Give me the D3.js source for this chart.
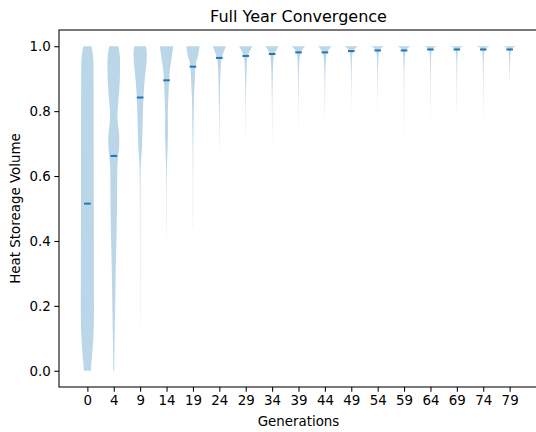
<!DOCTYPE html>
<html>
<head>
<meta charset="utf-8">
<script src="https://cdn.jsdelivr.net/npm/d3@7"></script>
<style>
  html, body { margin: 0; padding: 0; background: #fff; }
  svg { display: block; font-family: "DejaVu Sans", sans-serif; }
</style>
</head>
<body>
<svg id="chart" width="536" height="432"></svg>
<script>
// Generations sampled along the run
const generations = [0, 4, 9, 14, 19, 24, 29, 34, 39, 44, 49, 54, 59, 64, 69, 74, 79];

// Median heat storage volume per generation
const medians = [0.515, 0.662, 0.842, 0.895, 0.937, 0.964, 0.970, 0.976, 0.981, 0.981,
                 0.985, 0.987, 0.987, 0.990, 0.990, 0.990, 0.990];

// Kernel density profile per generation: [value, density relative to its peak]
const densities = [
  [[1.0, 0.60], [0.99, 0.72], [0.97, 0.85], [0.94, 0.93], [0.85, 0.95], [0.7, 0.96], [0.5, 0.97],
   [0.3, 0.99], [0.18, 1.0], [0.1, 0.9], [0.06, 0.76], [0.02, 0.6], [0.0, 0.52]],
  [[1.0, 0.70], [0.98, 0.86], [0.95, 0.96], [0.92, 0.95], [0.87, 0.85], [0.83, 0.7], [0.79, 0.55],
   [0.76, 0.62], [0.73, 0.8], [0.70, 0.84], [0.67, 0.72], [0.64, 0.58], [0.6, 0.52], [0.5, 0.49],
   [0.43, 0.44], [0.32, 0.31], [0.22, 0.23], [0.12, 0.15], [0.05, 0.09], [0.0, 0.06]],
  [[1.0, 0.88], [0.98, 1.0], [0.95, 0.96], [0.92, 0.8], [0.89, 0.66], [0.86, 0.55], [0.82, 0.46],
   [0.79, 0.42], [0.74, 0.35], [0.69, 0.28], [0.65, 0.15], [0.62, 0.08], [0.55, 0.05],
   [0.45, 0.035], [0.35, 0.025], [0.2, 0.015], [0.13, 0.01]],
  [[1.0, 1.0], [0.985, 0.92], [0.968, 0.8], [0.947, 0.65], [0.927, 0.5], [0.895, 0.4],
   [0.865, 0.33], [0.83, 0.25], [0.794, 0.2], [0.742, 0.22], [0.69, 0.17], [0.64, 0.08],
   [0.58, 0.04], [0.5, 0.025], [0.41, 0.012]],
  [[1.0, 1.0], [0.985, 0.9], [0.968, 0.74], [0.948, 0.46], [0.925, 0.34], [0.896, 0.28],
   [0.845, 0.16], [0.794, 0.11], [0.742, 0.08], [0.68, 0.045], [0.62, 0.03], [0.53, 0.018],
   [0.44, 0.01]],
  [[1.0, 1.0], [0.992, 0.85], [0.983, 0.66], [0.964, 0.38], [0.948, 0.25], [0.906, 0.15],
   [0.845, 0.08], [0.78, 0.04], [0.72, 0.02], [0.68, 0.01]],
  [[1.0, 1.0], [0.99, 0.75], [0.98, 0.5], [0.97, 0.32], [0.96, 0.22], [0.94, 0.15], [0.92, 0.12],
   [0.9, 0.09], [0.86, 0.05], [0.8, 0.025], [0.74, 0.012], [0.706, 0.006]],
  [[1.0, 1.0], [0.99, 0.7], [0.98, 0.44], [0.97, 0.27], [0.95, 0.17], [0.92, 0.11], [0.88, 0.07],
   [0.84, 0.04], [0.78, 0.02], [0.706, 0.006]],
  [[1.0, 1.0], [0.992, 0.65], [0.984, 0.4], [0.975, 0.24], [0.96, 0.15], [0.93, 0.09],
   [0.89, 0.05], [0.84, 0.025], [0.748, 0.006]],
  [[1.0, 1.0], [0.992, 0.68], [0.984, 0.42], [0.975, 0.25], [0.96, 0.15], [0.93, 0.09],
   [0.89, 0.05], [0.84, 0.025], [0.763, 0.006]],
  [[1.0, 1.0], [0.994, 0.62], [0.988, 0.38], [0.98, 0.2], [0.965, 0.12], [0.94, 0.07],
   [0.9, 0.04], [0.86, 0.02], [0.80, 0.006]],
  [[1.0, 1.0], [0.995, 0.6], [0.99, 0.36], [0.982, 0.2], [0.968, 0.12], [0.94, 0.07],
   [0.9, 0.04], [0.86, 0.02], [0.80, 0.006]],
  [[1.0, 1.0], [0.995, 0.6], [0.99, 0.36], [0.982, 0.2], [0.968, 0.12], [0.94, 0.07],
   [0.9, 0.04], [0.82, 0.02], [0.72, 0.006]],
  [[1.0, 1.0], [0.996, 0.55], [0.992, 0.3], [0.985, 0.17], [0.97, 0.1], [0.94, 0.06],
   [0.9, 0.035], [0.84, 0.018], [0.77, 0.006]],
  [[1.0, 1.0], [0.996, 0.55], [0.992, 0.3], [0.985, 0.17], [0.97, 0.1], [0.94, 0.06],
   [0.9, 0.035], [0.85, 0.018], [0.80, 0.006]],
  [[1.0, 1.0], [0.996, 0.55], [0.992, 0.3], [0.985, 0.17], [0.97, 0.1], [0.94, 0.06],
   [0.9, 0.035], [0.84, 0.018], [0.77, 0.006]],
  [[1.0, 1.0], [0.996, 0.52], [0.992, 0.28], [0.985, 0.16], [0.97, 0.1], [0.94, 0.05],
   [0.91, 0.025], [0.887, 0.008]]
];

const yTicks = [0.0, 0.2, 0.4, 0.6, 0.8, 1.0];

const svg = d3.select("#chart");
const frame = { left: 59, right: 538, top: 30, bottom: 387 };
const blue = "#1f77b4";

// violin i sits at position i + 1; limits include the 0.25 half-width plus 5% margin
const x = d3.scaleLinear().domain([-0.075, 18.075]).range([frame.left, frame.right]);
const y = d3.scaleLinear().domain([-0.05, 1.05]).range([frame.bottom, frame.top]);
const halfWidth = x(1.25) - x(1);

const plot = svg.append("g");

// violin bodies
const area = d3.area()
  .curve(d3.curveMonotoneY)
  .y(d => y(d[0]))
  .x0((d, j, arr) => arr.pos - d[1] * halfWidth)
  .x1((d, j, arr) => arr.pos + d[1] * halfWidth);

densities.forEach((prof, i) => {
  const pts = prof.slice().sort((a, b) => a[0] - b[0]);
  pts.pos = x(i + 1);
  plot.append("path")
    .attr("d", area(pts))
    .attr("fill", blue)
    .attr("fill-opacity", 0.3)
    .attr("stroke", "none");
});

// median bars
plot.selectAll("line.median")
  .data(medians)
  .join("line")
  .attr("class", "median")
  .attr("x1", (d, i) => x(i + 1 - 0.125))
  .attr("x2", (d, i) => x(i + 1 + 0.125))
  .attr("y1", d => y(d))
  .attr("y2", d => y(d))
  .attr("stroke", blue)
  .attr("stroke-width", 2);

// axes
const xAxis = d3.axisBottom(x)
  .tickValues(generations.map((g, i) => i + 1))
  .tickFormat((d, i) => generations[i])
  .tickSize(4.7)
  .tickPadding(3.5);
const yAxis = d3.axisLeft(y)
  .tickValues(yTicks)
  .tickFormat(d3.format(".1f"))
  .tickSize(4.7)
  .tickPadding(3.5);

const gx = svg.append("g")
  .attr("transform", `translate(0,${frame.bottom})`)
  .call(xAxis);
const gy = svg.append("g")
  .attr("transform", `translate(${frame.left},0)`)
  .call(yAxis);

[gx, gy].forEach(g => {
  g.select(".domain").remove();
  g.selectAll(".tick line").attr("stroke", "#000").attr("stroke-width", 1.05);
  g.selectAll(".tick text")
    .attr("fill", "#000")
    .style("font-family", "DejaVu Sans, sans-serif")
    .style("font-size", "13.4px");
});

// spines
svg.append("rect")
  .attr("x", frame.left)
  .attr("y", frame.top)
  .attr("width", frame.right - frame.left)
  .attr("height", frame.bottom - frame.top)
  .attr("fill", "none")
  .attr("stroke", "#000")
  .attr("stroke-width", 1.05);

// title and axis labels
svg.append("text")
  .attr("x", (frame.left + frame.right) / 2)
  .attr("y", 22)
  .attr("text-anchor", "middle")
  .style("font-size", "16px")
  .text("Full Year Convergence");

svg.append("text")
  .attr("x", (frame.left + frame.right) / 2)
  .attr("y", 426)
  .attr("text-anchor", "middle")
  .style("font-size", "13.4px")
  .text("Generations");

svg.append("text")
  .attr("transform", `translate(20,${(frame.top + frame.bottom) / 2}) rotate(-90)`)
  .attr("text-anchor", "middle")
  .style("font-size", "13.4px")
  .text("Heat Storeage Volume");
</script>
</body>
</html>
